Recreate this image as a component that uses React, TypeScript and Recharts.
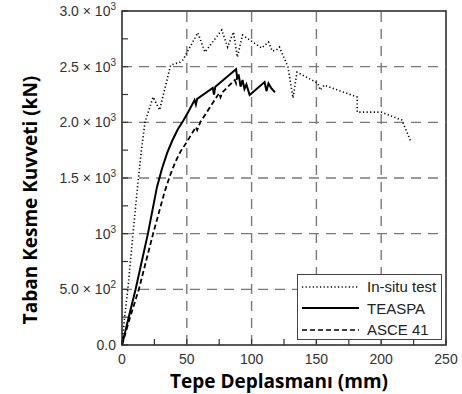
import React from "react";
import {
  LineChart,
  Line,
  XAxis,
  YAxis,
  ReferenceLine,
  ReferenceArea,
} from "recharts";

// In-situ test (dotted)
const insituX = [0, 2, 4.5, 8.5, 12.5, 15, 17.7, 24, 29, 37.5, 45, 47, 58.5, 64, 77, 81.5, 86, 89, 93, 102, 107.7, 113, 116, 119, 121.5, 128, 132, 135, 151, 153, 156, 181.5, 181.5, 200, 216, 223];
const insituY = [0, 250, 500, 1000, 1482, 1751, 2000, 2227, 2110, 2514, 2541, 2560, 2805, 2631, 2829, 2676, 2811, 2586, 2784, 2712, 2667, 2721, 2640, 2649, 2676, 2500, 2218, 2451, 2352, 2290, 2334, 2227, 2092, 2092, 2020, 1823];

// TEASPA (solid)
const teaspaX = [0, 5, 10.5, 20, 27, 31, 35, 39, 43, 47, 51, 56, 57, 58, 70, 71, 72, 88, 89, 90, 91.5, 93, 94.5, 96, 98.5, 110, 111.5, 113, 115, 118];
const teaspaY = [0, 240, 500, 1000, 1420, 1590, 1730, 1841, 1935, 2010, 2090, 2200, 2160, 2210, 2308, 2250, 2320, 2478, 2390, 2430, 2320, 2380, 2300, 2340, 2245, 2362, 2280, 2350, 2310, 2270];

// ASCE 41 (dashed)
const asceX = [0, 6, 13, 24, 33, 37, 41, 45, 50, 54, 57, 58, 60.6, 75, 76, 77.5, 87, 88, 89];
const asceY = [0, 240, 500, 1000, 1380, 1520, 1640, 1735, 1823, 1900, 1958, 1930, 2005, 2263, 2225, 2270, 2380, 2350, 2420];

const seriesNames = ["In-situ test", "TEASPA", "ASCE 41"];

const xTicks = [0, 25, 50, 75, 100, 125, 150, 175, 200, 225, 250];
const xGrid = [50, 100, 150, 200];
const yTicks = [0, 250, 500, 750, 1000, 1250, 1500, 1750, 2000, 2250, 2500, 2750, 3000];
const yGrid = [500, 1000, 1500, 2000, 2500];
const yLabelValues = [0, 500, 1000, 1500, 2000, 2500, 3000];
const yLabelMant = ["0.0", "5.0 × 10", "10", "1.5 × 10", "2.0 × 10", "2.5 × 10", "3.0 × 10"];
const yLabelExp = ["", "2", "3", "3", "3", "3", "3"];

const toPoints = (xs: number[], ys: number[]) => xs.map((x, i) => ({ x, y: ys[i] }));

const insituData = toPoints(insituX, insituY);
const teaspaData = toPoints(teaspaX, teaspaY);
const asceData = toPoints(asceX, asceY);

const PLOT_LEFT = 122;
const PLOT_BOTTOM = 345;
const tickFont = "'Liberation Sans', Arial, sans-serif";
const titleFont = "'Open Sans', sans-serif";

function XTick(props: any) {
  const { x, payload } = props;
  const v = payload.value;
  return (
    <g>
      <line x1={x} x2={x} y1={PLOT_BOTTOM} y2={PLOT_BOTTOM - 6} stroke="#333" strokeWidth={1.2} />
      {v % 50 === 0 && (
        <text x={x} y={PLOT_BOTTOM + 19} textAnchor="middle" fontSize={14} fill="#333" fontFamily={tickFont}>
          {v}
        </text>
      )}
    </g>
  );
}

function YTick(props: any) {
  const { y, payload } = props;
  const v = payload.value;
  const idx = yLabelValues.indexOf(v);
  return (
    <g>
      <line x1={PLOT_LEFT} x2={PLOT_LEFT + 6} y1={y} y2={y} stroke="#333" strokeWidth={1.2} />
      {idx >= 0 && (
        <text x={PLOT_LEFT - 6} y={y + 5} textAnchor="end" fontSize={14} fill="#333" fontFamily={tickFont}>
          {yLabelMant[idx]}
          {yLabelExp[idx] && (
            <tspan fontSize={10} dy={-6}>
              {yLabelExp[idx]}
            </tspan>
          )}
        </text>
      )}
    </g>
  );
}

function XTitle() {
  return (
    <text x={279} y={388} textAnchor="middle" fontSize={19} fontWeight="bold" fill="#000" fontFamily={titleFont}>
      Tepe Deplasmanı (mm)
    </text>
  );
}

function YTitle() {
  return (
    <text
      x={0}
      y={0}
      transform="translate(37,200) rotate(-90)"
      textAnchor="middle"
      fontSize={19}
      fontWeight="bold"
      fill="#000"
      fontFamily={titleFont}
    >
      Taban Kesme Kuvveti (kN)
    </text>
  );
}

const dashes = ["1.2 2.4", undefined, "5 3"];

function LegendBox() {
  return (
    <div
      style={{
        position: "absolute",
        left: 297,
        top: 274,
        width: 145,
        height: 66,
        border: "1px solid #444",
        background: "#fff",
        boxSizing: "border-box",
        fontFamily: tickFont,
        fontSize: 15,
        color: "#222",
        paddingTop: 1,
      }}
    >
      {seriesNames.map((name, i) => (
        <div key={name} style={{ display: "flex", alignItems: "center", height: 21.5 }}>
          <svg width={65} height={10} style={{ marginLeft: 4 }}>
            <line x1={0} x2={57} y1={5} y2={5} stroke="#000" strokeWidth={i === 1 ? 2 : 1.6} strokeDasharray={dashes[i]} />
          </svg>
          <span>{name}</span>
        </div>
      ))}
    </div>
  );
}

export default function App() {
  return (
    <div style={{ position: "absolute", left: 0, top: 0, width: 462, height: 394, background: "#fff" }}>
      <LineChart width={462} height={394} margin={{ top: 11, right: 16, bottom: 0, left: 0 }}>
        <XAxis
          type="number"
          dataKey="x"
          domain={[0, 250]}
          ticks={xTicks}
          interval={0}
          axisLine={false}
          tickLine={false}
          height={49}
          tick={<XTick />}
          label={<XTitle />}
        />
        <YAxis
          type="number"
          dataKey="y"
          domain={[0, 3000]}
          ticks={yTicks}
          interval={0}
          axisLine={false}
          tickLine={false}
          width={122}
          tick={<YTick />}
          label={<YTitle />}
        />
        {xGrid.map((v) => (
          <ReferenceLine key={"x" + v} x={v} stroke="#7a7a7a" strokeWidth={1.4} strokeDasharray="10 7" />
        ))}
        {yGrid.map((v) => (
          <ReferenceLine key={"y" + v} y={v} stroke="#7a7a7a" strokeWidth={1.4} strokeDasharray="10 7" />
        ))}
        <ReferenceArea x1={0} x2={250} y1={0} y2={3000} fill="none" stroke="#222" strokeWidth={1.5} />
        <Line
          data={insituData}
          dataKey="y"
          name={seriesNames[0]}
          stroke="#000"
          strokeWidth={1.6}
          strokeDasharray={dashes[0]}
          dot={false}
          isAnimationActive={false}
        />
        <Line
          data={teaspaData}
          dataKey="y"
          name={seriesNames[1]}
          stroke="#000"
          strokeWidth={2}
          dot={false}
          isAnimationActive={false}
        />
        <Line
          data={asceData}
          dataKey="y"
          name={seriesNames[2]}
          stroke="#000"
          strokeWidth={1.8}
          strokeDasharray={dashes[2]}
          dot={false}
          isAnimationActive={false}
        />
      </LineChart>
      <LegendBox />
    </div>
  );
}
